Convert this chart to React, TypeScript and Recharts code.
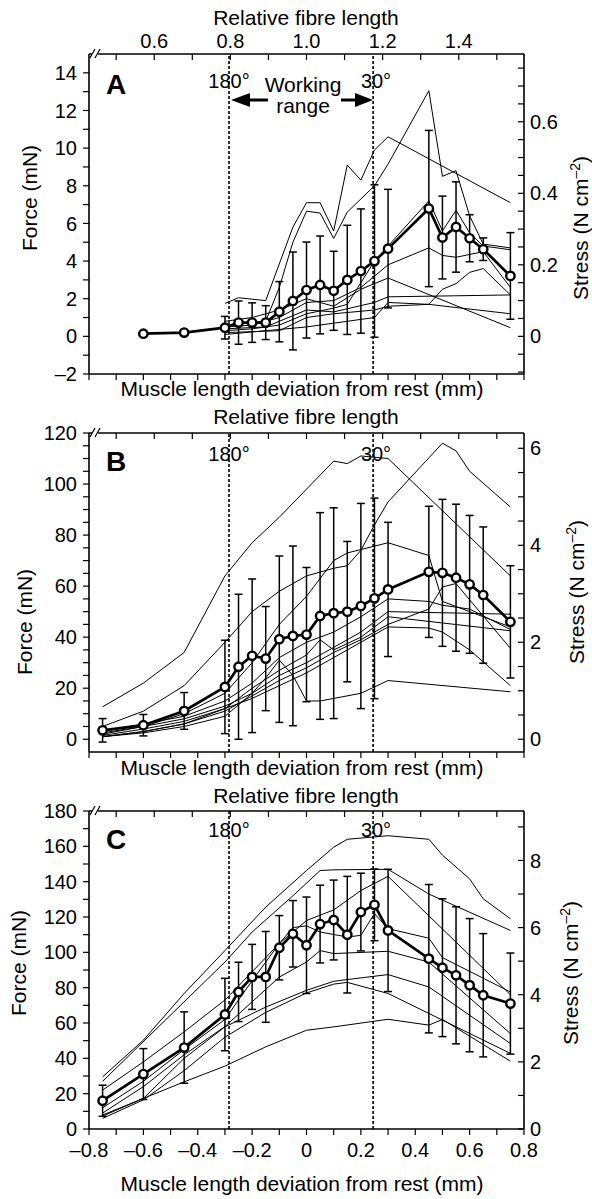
import React from 'react';
import { ComposedChart, Line, XAxis, YAxis, ReferenceLine, ErrorBar } from 'recharts';

const FONT = '"Liberation Sans", Arial, Helvetica, sans-serif';
const n = null;

// bottom axis: muscle length deviation from rest (mm)
const MM_TICKS = [-0.8, -0.7, -0.6, -0.5, -0.4, -0.3, -0.2, -0.1, 0, 0.1, 0.2, 0.3, 0.4, 0.5, 0.6, 0.7, 0.8];
const MM_LABELS = [-0.8, -0.6, -0.4, -0.2, 0, 0.2, 0.4, 0.6, 0.8];
// top axis: relative fibre length (1.0 at rest, 0.2 per 0.28 mm)
const REL_TICKS = [0.5, 0.6, 0.7, 0.8, 0.9, 1.0, 1.1, 1.2, 1.3, 1.4, 1.5];
const REL_LABELS = [0.6, 0.8, 1.0, 1.2, 1.4];
const MM_PER_REL = 1.4;
// working range limits (mm)
const ANGLE_180 = -0.285;
const ANGLE_30 = 0.245;
// mN of force per N cm-2 of stress
const FORCE_PER_STRESS = 19;

// ---- A ----
const xA = [-0.6, -0.45, -0.3, -0.25, -0.2, -0.15, -0.1, -0.05, 0, 0.05, 0.1, 0.15, 0.2, 0.25, 0.3, 0.45, 0.5, 0.55, 0.6, 0.65, 0.75];
const meanA = [0.14, 0.2, 0.46, 0.73, 0.73, 0.73, 1.31, 1.88, 2.46, 2.73, 2.42, 3.0, 3.47, 4.0, 4.66, 6.79, 5.25, 5.81, 5.21, 4.63, 3.21];
const sdA = [0, 0, 0.6, 1.15, 1.05, 0.9, 1.6, 2.6, 2.55, 2.6, 2.1, 2.9, 3.3, 4.05, 3.15, 4.15, 2.2, 2.4, 1.25, 0.6, 2.3];
const animalA1 = [n, n, 1.75, 2.05, n, 1.9, n, 5.8, 7.1, 7.1, 5.6, 9.1, 8.3, 9.9, 10.6, n, n, n, n, n, 7.1];
const animalA2 = [n, n, 0.6, n, n, 0.8, 2.6, 5.0, 6.65, 6.55, 5.2, 6.6, 7.3, 8.0, 9.15, 13.05, 8.5, 8.8, 6.4, 4.9, 4.7];
const animalA3 = [n, n, 0.3, n, 0.4, n, 0.6, n, 1.2, n, 1.5, 1.7, n, 4.0, 4.8, 7.2, 5.6, 6.7, 5.5, 4.8, 4.6];
const animalA4 = [n, n, 0.5, n, 0.6, n, 1.0, n, 1.8, n, 1.9, n, 2.6, n, 3.8, 4.7, 4.3, 4.2, n, 4.5, 2.6];
const animalA5 = [n, n, 0.2, n, n, n, 0.3, n, 1.0, n, 1.2, n, n, 1.4, 1.6, 1.7, 2.5, 2.8, 3.4, 3.6, 2.2];
const animalA6 = [n, n, 0.4, n, n, 0.5, n, n, 1.4, n, 1.3, n, n, 1.8, 2.1, n, n, n, n, n, 2.2];
const animalA7 = [n, n, 0.8, n, 1.0, n, 1.4, n, 2.0, n, 1.6, n, 2.5, 2.8, 3.1, n, n, n, n, n, 0.46];
const animalA8 = [n, n, 0.1, n, n, n, n, n, 0.5, n, n, n, n, 1.0, 1.8, 1.7, n, n, n, n, 1.2];
const A_FORCE_TICKS = [-2, -1, 0, 1, 2, 3, 4, 5, 6, 7, 8, 9, 10, 11, 12, 13, 14];
const A_FORCE_LABELS = [-2, 0, 2, 4, 6, 8, 10, 12, 14];
const A_STRESS_TICKS = [-0.1, -0.05, 0, 0.05, 0.1, 0.15, 0.2, 0.25, 0.3, 0.35, 0.4, 0.45, 0.5, 0.55, 0.6, 0.65, 0.7, 0.75];
const A_STRESS_LABELS = [0, 0.2, 0.4, 0.6];

// ---- B ----
const xB = [-0.75, -0.6, -0.45, -0.3, -0.25, -0.2, -0.15, -0.1, -0.05, 0, 0.05, 0.1, 0.15, 0.2, 0.25, 0.3, 0.45, 0.5, 0.55, 0.6, 0.65, 0.75];
const meanB = [3.5, 5.5, 11.1, 20.5, 28.4, 32.7, 31.6, 39.2, 40.5, 41.0, 48.3, 49.4, 50.0, 52.2, 55.2, 58.7, 65.6, 65.2, 63.3, 60.7, 56.5, 46.0];
const sdB = [4.6, 4.2, 7.2, 18.3, 28.4, 30.1, 20.4, 32.6, 35.2, 26.3, 40.5, 41.3, 27.5, 40.2, 39.3, 26.3, 25.7, 28.8, 28.8, 27.0, 26.7, 22.0];
const animalB1 = [12.7, 22, 34, 64, n, 77, n, 87, n, 98, n, 109, 108, 111, n, 110, n, n, n, n, n, 64];
const animalB2 = [5, 11, 21, 38, n, 50, n, 58, n, 64, n, 67, 68, 74, 84, 93, n, 116, 113, 105, n, 91];
const animalB3 = [2, 5, 10, 18, n, 30, n, 45, n, 56, n, 70, 73, n, n, 77, 72, 54, n, n, n, 44];
const animalB4 = [3, 6, 9, 15, n, 22, n, 32, n, 38, n, 42, n, 48, n, 55, 54, 52.5, n, 51, n, 43];
const animalB5 = [2.5, 5, 8, 13, n, 18, n, 25, n, 30, n, 36, n, 42, n, 50, n, n, n, n, n, 49];
const animalB6 = [1, 3, 6, 11, n, 17, n, 23, n, 28, n, 34, n, 39, n, 45, 51, 59.7, 61, n, n, 35.6];
const animalB7 = [1.5, 4, 7, 12, n, 16, n, 21, n, 26, n, 32, n, 38, n, 44, 43.6, 42, n, 35, n, 21];
const animalB8 = [1, 2.5, 5, 9, n, 18, 24, 31, 25, 15, 15, 16, n, 18, n, 23, n, n, n, n, n, 18.6];
const animalB9 = [1, 3, 6, 12, n, 20, n, 27, n, 33, 39, 35, n, 40, n, 48, n, n, n, n, n, 42.5];
const B_FORCE_TICKS = [0, 5, 10, 15, 20, 25, 30, 35, 40, 45, 50, 55, 60, 65, 70, 75, 80, 85, 90, 95, 100, 105, 110, 115, 120];
const B_FORCE_LABELS = [0, 20, 40, 60, 80, 100, 120];
const B_STRESS_TICKS = [0, 0.5, 1, 1.5, 2, 2.5, 3, 3.5, 4, 4.5, 5, 5.5, 6];
const B_STRESS_LABELS = [0, 2, 4, 6];

// ---- C ----
const xC = [-0.75, -0.6, -0.45, -0.3, -0.25, -0.2, -0.15, -0.1, -0.05, 0, 0.05, 0.1, 0.15, 0.2, 0.25, 0.3, 0.45, 0.5, 0.55, 0.6, 0.65, 0.75];
const meanC = [16.0, 31.1, 46.1, 64.8, 77.6, 86.1, 86.1, 102.6, 110.5, 104, 116, 118.3, 110, 122.8, 126.9, 112.4, 96.4, 91.3, 87, 81.4, 75.7, 71];
const sdC = [8.8, 14.4, 20.2, 20.5, 16.8, 18.4, 25.7, 18.2, 18.8, 27.3, 22, 22.6, 33, 22, 20.3, 34.6, 42, 39, 38.8, 37.7, 34.9, 28.6];
const animalC1 = [29.5, 50.3, 76.7, 101, n, n, 125.6, n, n, 146.3, n, 159.5, 164, n, n, 166, 164, 155, n, 141.6, 130.3, 119];
const animalC2 = [27, n, n, 94.5, n, 111.5, n, n, 132, n, 146.3, 146.7, n, n, n, 147, 133, n, n, n, n, 112.4];
const animalC3 = [22, 38, 55, 73, n, 89, n, 105, n, 118, n, 124, n, 135, n, 143, n, n, n, n, n, 76];
const animalC4 = [12, 27, 45, 62, n, 84, n, 105, 114, 115, 111.5, n, 108.7, 109.6, 121.9, 113.4, 108, 97, n, n, n, 77.6];
const animalC5 = [9, 24, 42, 58, n, 72, n, 86, n, 94.5, 101, 99.3, n, n, n, 100.6, 94.5, n, n, n, n, 54];
const animalC6 = [7.3, 17.3, 40, 57.8, n, n, 69, n, n, 78.5, n, 83.6, 84.6, n, n, 87.4, 80.4, n, n, n, n, 48.4];
const animalC7 = [6, 16.5, 33, 52, n, n, 66, n, n, 77, n, 82, 83, n, n, 76.7, n, n, n, n, n, 42.8];
const animalC8 = [7.9, 17.3, 26.7, 35.6, n, n, 46.5, n, n, 55.9, n, 57.8, n, n, n, 62.1, 58.8, 62, n, n, n, 38.4];
const C_FORCE_TICKS = [0, 10, 20, 30, 40, 50, 60, 70, 80, 90, 100, 110, 120, 130, 140, 150, 160, 170, 180];
const C_FORCE_LABELS = [0, 20, 40, 60, 80, 100, 120, 140, 160, 180];
const C_STRESS_TICKS = [0, 1, 2, 3, 4, 5, 6, 7, 8, 9];
const C_STRESS_LABELS = [0, 2, 4, 6, 8];

const has = (list: number[], v: number) => list.some((t) => Math.abs(t - v) < 1e-6);
const fmt = (list: number[], digits: number) => (v: number) => {
  if (!has(list, v)) return '';
  if (Math.abs(v) < 1e-9) return '0';
  return v.toFixed(digits).replace('-', '\u2013');
};

// the top axis shares the mm scale; its ticks sit where each relative length falls
const relToMm = (r: number) => (r - 1) * MM_PER_REL;
const REL_TICKS_MM = REL_TICKS.map(relToMm);
const relFmt = (labels: number[]) => (mm: number) => {
  const r = 1 + mm / MM_PER_REL;
  return has(labels, r) ? r.toFixed(1) : '';
};

function buildRows(xs: number[], mean: number[], sd: number[], lines: (number | null)[][]) {
  return xs.map((x, i) => {
    const row: Record<string, number | null> = { x, mean: mean[i], sd: sd[i] };
    lines.forEach((l, j) => {
      row['l' + j] = l[i];
    });
    return row;
  });
}

const tickStyle = { fill: '#000', fontSize: 20, fontFamily: FONT };
const axisLine = { stroke: '#000', strokeWidth: 1.6 };
const tickLine = { stroke: '#000', strokeWidth: 1.2 };

interface PanelProps {
  xs: number[];
  mean: number[];
  sd: number[];
  lines: (number | null)[][];
  forceDomain: [number, number];
  forceTicks: number[];
  forceLabels: number[];
  stressTicks: number[];
  stressLabels: number[];
  stressDigits: number;
  relLabels: number[];
  mmLabels: number[];
  height: number;
  marginTop: number;
  topAxisHeight: number;
  marginBottom: number;
  bottomAxisHeight: number;
}

function Panel(p: PanelProps) {
  const rows = buildRows(p.xs, p.mean, p.sd, p.lines);
  const stressDomain = [p.forceDomain[0] / FORCE_PER_STRESS, p.forceDomain[1] / FORCE_PER_STRESS];
  return (
    <ComposedChart
      width={592}
      height={p.height}
      data={rows}
      margin={{ top: p.marginTop, right: 0, bottom: p.marginBottom, left: 0 }}
    >
      <XAxis
        xAxisId="mm"
        dataKey="x"
        type="number"
        domain={[-0.8, 0.8]}
        allowDataOverflow
        ticks={MM_TICKS}
        tickFormatter={fmt(p.mmLabels, 1)}
        height={p.bottomAxisHeight}
        tickSize={6}
        tickMargin={8}
        interval={0}
        axisLine={axisLine}
        tickLine={tickLine}
        tick={tickStyle}
      />
      <XAxis
        xAxisId="rel"
        dataKey="x"
        orientation="top"
        type="number"
        domain={[-0.8, 0.8]}
        allowDataOverflow
        ticks={REL_TICKS_MM}
        tickFormatter={relFmt(p.relLabels)}
        height={p.topAxisHeight}
        tickSize={-6}
        tickMargin={12}
        interval={0}
        axisLine={axisLine}
        tickLine={tickLine}
        tick={tickStyle}
      />
      <YAxis
        yAxisId="force"
        type="number"
        domain={p.forceDomain}
        allowDataOverflow
        ticks={p.forceTicks}
        tickFormatter={fmt(p.forceLabels, 0)}
        width={89}
        tickSize={6}
        tickMargin={6}
        interval={0}
        axisLine={axisLine}
        tickLine={tickLine}
        tick={tickStyle}
      />
      <YAxis
        yAxisId="stress"
        orientation="right"
        type="number"
        domain={stressDomain}
        allowDataOverflow
        ticks={p.stressTicks}
        tickFormatter={fmt(p.stressLabels, p.stressDigits)}
        width={68}
        tickSize={-6}
        tickMargin={12}
        interval={0}
        axisLine={axisLine}
        tickLine={tickLine}
        tick={tickStyle}
      />
      <ReferenceLine x={ANGLE_180} xAxisId="mm" yAxisId="force" stroke="#000" strokeWidth={1.6} strokeDasharray="3 2" />
      <ReferenceLine x={ANGLE_30} xAxisId="mm" yAxisId="force" stroke="#000" strokeWidth={1.6} strokeDasharray="3 2" />
      {p.lines.map((_, j) => (
        <Line
          key={j}
          xAxisId="mm"
          yAxisId="force"
          type="linear"
          dataKey={'l' + j}
          stroke="#000"
          strokeWidth={1}
          dot={false}
          activeDot={false}
          connectNulls
          isAnimationActive={false}
        />
      ))}
      <Line
        xAxisId="mm"
        yAxisId="force"
        type="linear"
        dataKey="mean"
        stroke="#000"
        strokeWidth={2.7}
        dot={{ r: 4.2, fill: '#fff', stroke: '#000', strokeWidth: 2.4 }}
        activeDot={false}
        isAnimationActive={false}
      >
        <ErrorBar dataKey="sd" direction="y" width={4} stroke="#000" strokeWidth={1.5} isAnimationActive={false} />
      </Line>
    </ComposedChart>
  );
}

function Txt({ cx, base, size = 21, bold = false, children }: { cx: number; base: number; size?: number; bold?: boolean; children: React.ReactNode }) {
  return (
    <div
      style={{
        position: 'absolute',
        left: cx - 250,
        top: base - 0.8465 * size,
        width: 500,
        textAlign: 'center',
        fontSize: size,
        lineHeight: `${size}px`,
        fontWeight: bold ? 700 : 400,
        whiteSpace: 'nowrap',
      }}
    >
      {children}
    </div>
  );
}

function VTxt({ cx, cy, children }: { cx: number; cy: number; children: React.ReactNode }) {
  return (
    <div
      style={{
        position: 'absolute',
        left: cx,
        top: cy,
        transform: 'translate(-50%, -50%) rotate(-90deg)',
        fontSize: 21,
        lineHeight: '24px',
        whiteSpace: 'nowrap',
      }}
    >
      {children}
    </div>
  );
}

const stressTitle = (
  <span>
    Stress (N cm<sup style={{ fontSize: 14, verticalAlign: 'super', lineHeight: 0 }}>{'\u20132'}</sup>)
  </span>
);

const PLOT_TOPS = [54, 433, 811];

export default function App() {
  return (
    <div
      style={{
        position: 'absolute',
        left: 0,
        top: 0,
        width: 592,
        height: 1199,
        background: '#fff',
        fontFamily: FONT,
        color: '#000',
        overflow: 'hidden',
      }}
    >
      <div style={{ position: 'absolute', left: 0, top: 0 }}>
        <Panel
          xs={xA}
          mean={meanA}
          sd={sdA}
          lines={[animalA1, animalA2, animalA3, animalA4, animalA5, animalA6, animalA7, animalA8]}
          forceDomain={[-2, 15]}
          forceTicks={A_FORCE_TICKS}
          forceLabels={A_FORCE_LABELS}
          stressTicks={A_STRESS_TICKS}
          stressLabels={A_STRESS_LABELS}
          stressDigits={1}
          relLabels={REL_LABELS}
          mmLabels={[]}
          height={390}
          marginTop={24}
          topAxisHeight={30}
          marginBottom={6}
          bottomAxisHeight={10}
        />
      </div>
      <div style={{ position: 'absolute', left: 0, top: 390 }}>
        <Panel
          xs={xB}
          mean={meanB}
          sd={sdB}
          lines={[animalB1, animalB2, animalB3, animalB4, animalB5, animalB6, animalB7, animalB8, animalB9]}
          forceDomain={[-5, 120]}
          forceTicks={B_FORCE_TICKS}
          forceLabels={B_FORCE_LABELS}
          stressTicks={B_STRESS_TICKS}
          stressLabels={B_STRESS_LABELS}
          stressDigits={0}
          relLabels={[]}
          mmLabels={[]}
          height={390}
          marginTop={23}
          topAxisHeight={20}
          marginBottom={18}
          bottomAxisHeight={10}
        />
      </div>
      <div style={{ position: 'absolute', left: 0, top: 780 }}>
        <Panel
          xs={xC}
          mean={meanC}
          sd={sdC}
          lines={[animalC1, animalC2, animalC3, animalC4, animalC5, animalC6, animalC7, animalC8]}
          forceDomain={[0, 180]}
          forceTicks={C_FORCE_TICKS}
          forceLabels={C_FORCE_LABELS}
          stressTicks={C_STRESS_TICKS}
          stressLabels={C_STRESS_LABELS}
          stressDigits={0}
          relLabels={[]}
          mmLabels={MM_LABELS}
          height={419}
          marginTop={11}
          topAxisHeight={20}
          marginBottom={30}
          bottomAxisHeight={40}
        />
      </div>

      {/* arrows and axis breaks */}
      <svg width={592} height={1199} style={{ position: 'absolute', left: 0, top: 0, pointerEvents: 'none' }}>
        <line x1={268} y1={100} x2={248} y2={100} stroke="#000" strokeWidth={3} />
        <polygon points="231,100 250,93 250,107" fill="#000" />
        <line x1={341} y1={100} x2={357} y2={100} stroke="#000" strokeWidth={3} />
        <polygon points="373,100 355,93 355,107" fill="#000" />
        {PLOT_TOPS.map((t) => (
          <g key={t}>
            <rect x={92} y={t - 2} width={6} height={4} fill="#fff" />
            <line x1={90} y1={t + 4} x2={95} y2={t - 5} stroke="#000" strokeWidth={1.2} />
            <line x1={95} y1={t + 4} x2={100} y2={t - 5} stroke="#000" strokeWidth={1.2} />
          </g>
        ))}
      </svg>

      {/* panel A texts */}
      <Txt cx={306} base={25}>Relative fibre length</Txt>
      <Txt cx={302} base={396}>Muscle length deviation from rest (mm)</Txt>
      <Txt cx={116} base={95} size={28} bold>A</Txt>
      <Txt cx={229} base={88} size={20}>180°</Txt>
      <Txt cx={376} base={88} size={20}>30°</Txt>
      <Txt cx={303} base={92}>Working</Txt>
      <Txt cx={303} base={113}>range</Txt>
      <VTxt cx={30} cy={198}>Force (mN)</VTxt>
      <VTxt cx={581} cy={228}>{stressTitle}</VTxt>

      {/* panel B texts */}
      <Txt cx={306} base={424}>Relative fibre length</Txt>
      <Txt cx={302} base={775}>Muscle length deviation from rest (mm)</Txt>
      <Txt cx={116} base={472} size={28} bold>B</Txt>
      <Txt cx={229} base={461} size={20}>180°</Txt>
      <Txt cx={376} base={461} size={20}>30°</Txt>
      <VTxt cx={25} cy={622}>Force (mN)</VTxt>
      <VTxt cx={577} cy={592}>{stressTitle}</VTxt>

      {/* panel C texts */}
      <Txt cx={306} base={803}>Relative fibre length</Txt>
      <Txt cx={302} base={1191}>Muscle length deviation from rest (mm)</Txt>
      <Txt cx={116} base={850} size={28} bold>C</Txt>
      <Txt cx={229} base={837} size={20}>180°</Txt>
      <Txt cx={376} base={837} size={20}>30°</Txt>
      <VTxt cx={19} cy={963}>Force (mN)</VTxt>
      <VTxt cx={571} cy={973}>{stressTitle}</VTxt>
    </div>
  );
}
